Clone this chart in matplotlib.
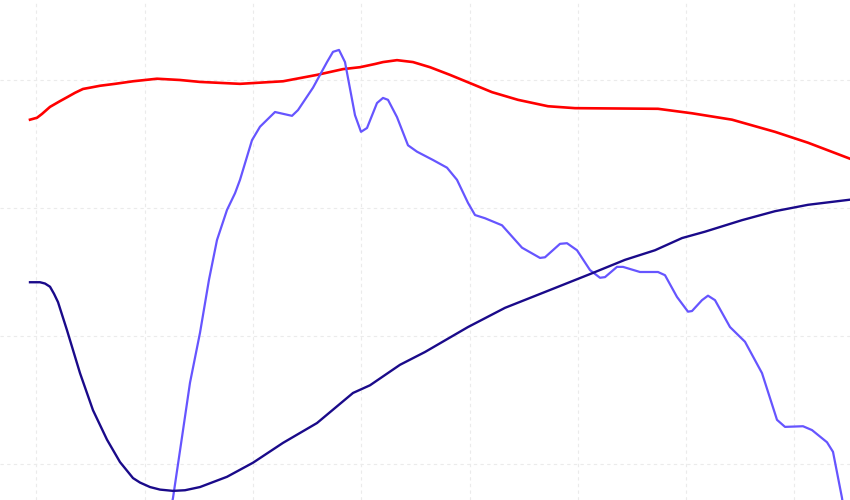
import matplotlib
matplotlib.use("Agg")
import matplotlib.pyplot as plt
import numpy as np

# red series
red_x = [0, 0.7, 1.2, 2, 3, 3.7, 4.5, 5.3, 6, 7, 8.5, 10.3, 12.7, 15, 17, 21, 25.3,
         28.7, 31.3, 33, 34.5, 35.3, 36.7, 38.3, 40, 42, 46.2, 48.8, 51.8, 54.5,
         62.8, 66.2, 70.2, 74.5, 77.8, 82]
red_y = [53.8, 54.1, 54.7, 55.8, 56.7, 57.3, 58.0, 58.6, 58.8, 59.1, 59.4, 59.8,
         60.2, 60.0, 59.7, 59.4, 59.8, 60.8, 61.7, 62.0, 62.5, 62.8, 63.1, 62.8,
         62.0, 60.8, 58.1, 56.9, 55.9, 55.6, 55.5, 54.8, 53.8, 51.9, 50.2, 47.7]

# dark navy series
navy_x = [0, 1, 1.5, 2, 2.4, 2.8, 3.7, 5, 6.3, 7.7, 9, 10.3, 11, 12, 13, 14.3, 15.5,
          17, 19.7, 22.3, 25.3, 28.7, 32.3, 34, 37, 39.5, 43.8, 47.5, 52.5, 56.2,
          59.5, 62.5, 65.2, 67.5, 71.2, 74.5, 77.8, 82]
navy_y = [28.4, 28.4, 28.2, 27.7, 26.6, 25.3, 20.9, 14.2, 8.4, 3.8, 0.3, -2.2,
          -2.9, -3.6, -4.0, -4.2, -4.1, -3.6, -2.0, 0.2, 3.3, 6.4, 11.1, 12.3, 15.5,
          17.5, 21.4, 24.4, 27.5, 29.8, 31.9, 33.4, 35.3, 36.3, 38.1, 39.5, 40.5,
          41.3]

# purple series
purple_x = [13.5, 14.3, 15.2, 16, 17, 17.9, 18.7, 19.7, 20.5, 21, 22.2, 23, 24.5,
            26.2, 26.8, 28.3, 29.7, 30.3, 30.9, 31.5, 32.5, 33.1, 33.7, 34.7, 35.3,
            35.8, 36.7, 37.8, 38.7, 40.3, 41.7, 42.7, 43.8, 44.5, 45.5, 47.2, 49.2,
            51, 51.5, 53, 53.7, 54.7, 56, 57, 57.5, 58.7, 59.3, 61, 62.8, 63.5, 64.7,
            65.8, 66.2, 67.2, 67.8, 68.5, 70, 71.5, 73.2, 74.7, 75.5, 77.3, 78.2,
            79.7, 80.3, 81.2, 81.8]
purple_y = [-11.9, -5.3, 4.2, 12.7, 20.5, 28.8, 35.0, 39.7, 42.3, 44.4, 50.6, 52.7,
            55.0, 54.4, 55.3, 58.8, 62.8, 64.4, 64.7, 62.8, 54.5, 51.9, 52.5, 56.4,
            57.2, 56.9, 54.2, 49.8, 48.8, 47.5, 46.3, 44.4, 40.8, 38.9, 38.4, 37.3,
            33.8, 32.2, 32.3, 34.4, 34.5, 33.4, 30.3, 29.1, 29.2, 30.8, 30.8, 30.0,
            30.0, 29.5, 26.1, 23.8, 23.9, 25.6, 26.3, 25.6, 21.4, 19.1, 14.2, 6.9,
            5.8, 5.9, 5.3, 3.4, 1.9, -5.3, -11.9]

fig = plt.figure(figsize=(8.5, 5), dpi=100)
ax = fig.add_axes([0, 0, 1, 1])

ax.plot(red_x, red_y, color="#ff0000", lw=1.9, solid_joinstyle="round")
ax.plot(purple_x, purple_y, color="#6655ff", lw=1.6, solid_joinstyle="round")
ax.plot(navy_x, navy_y, color="#1a0a8a", lw=1.7, solid_joinstyle="round")

ax.set_xlim(-3, 82)
ax.set_ylim(-5.625, 72.5)
ax.set_xticks(np.arange(0.63, 82, 10.83))
ax.set_yticks([0, 20, 40, 60])
ax.grid(True, color="#ebebeb", linestyle=(0, (3, 3)), lw=0.8)
ax.set_axisbelow(True)
ax.tick_params(length=0, labelbottom=False, labelleft=False)
for s in ax.spines.values():
    s.set_visible(False)

fig.savefig("out.png", dpi=100)
